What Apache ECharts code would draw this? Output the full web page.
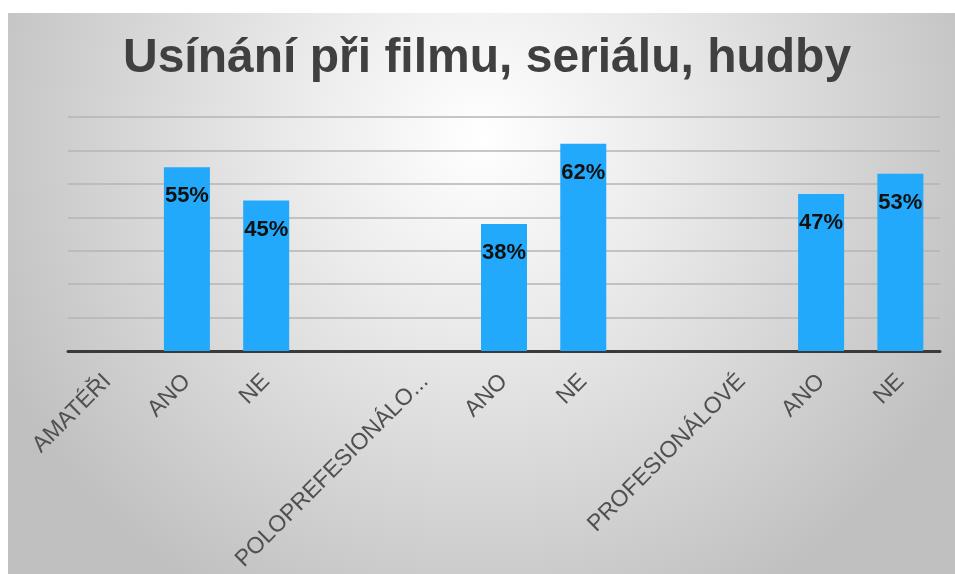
<!DOCTYPE html>
<html>
<head>
<meta charset="utf-8">
<script src="https://cdn.jsdelivr.net/npm/echarts@6/dist/echarts.min.js"></script>
<style>
  html, body { margin: 0; padding: 0; background: #fff; }
  #main { position: absolute; left: 8px; top: 13px; width: 947px; height: 561px; }
</style>
</head>
<body>
<div id="main"></div>
<script>
var myChart = echarts.init(document.getElementById('main'));

var categories = ['AMATÉŘI', 'ANO', 'NE', '', 'POLOPREFESIONÁLOVÉ', 'ANO', 'NE', '', 'PROFESIONÁLOVÉ', 'ANO', 'NE'];
var values = [null, 0.55, 0.45, null, null, 0.38, 0.62, null, null, 0.47, 0.53];

option = {
    backgroundColor: {
        type: 'radial',
        x: 0.5,
        y: 0.22,
        r: 0.95,
        colorStops: [
            { offset: 0, color: '#ffffff' },
            { offset: 0.35, color: '#ebebeb' },
            { offset: 1, color: '#c0c0c0' }
        ]
    },
    title: {
        text: 'Usínání při filmu, seriálu, hudby',
        left: 110,
        top: 17,
        textStyle: {
            fontFamily: 'Liberation Sans',
            fontSize: 48,
            fontWeight: 'bold',
            color: '#404040'
        }
    },
    grid: {
        left: 60,
        right: 15,
        top: 104,
        bottom: 223
    },
    xAxis: {
        type: 'category',
        data: categories,
        axisTick: { show: false },
        axisLine: {
            lineStyle: { color: '#3a3a3a', width: 3 }
        },
        axisLabel: {
            interval: 0,
            rotate: 45,
            margin: 27,
            fontFamily: 'Liberation Sans',
            fontSize: 23,
            color: '#505050',
            width: 266,
            overflow: 'truncate',
            ellipsis: '...'
        }
    },
    yAxis: {
        type: 'value',
        min: 0,
        max: 0.7,
        interval: 0.1,
        axisLabel: { show: false },
        axisLine: { show: false },
        axisTick: { show: false },
        splitLine: {
            lineStyle: { color: '#b4b4b4', width: 1.5 }
        }
    },
    series: [{
        type: 'bar',
        data: values,
        barWidth: 46,
        itemStyle: { color: '#23a9fb' },
        label: {
            show: true,
            position: 'insideTop',
            distance: 18,
            fontFamily: 'Liberation Sans',
            fontSize: 22,
            fontWeight: 'bold',
            color: '#111111',
            formatter: function (p) {
                return Math.round(p.value * 100) + '%';
            }
        }
    }]
};

myChart.setOption(option);
</script>
</body>
</html>
